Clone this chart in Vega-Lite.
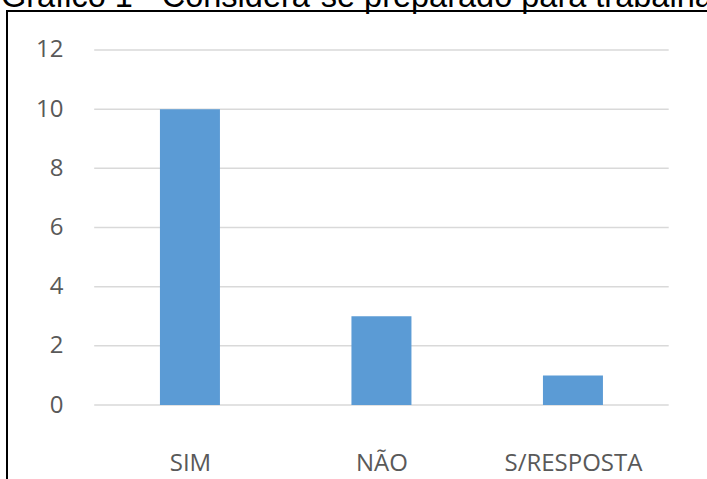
{
  "$schema": "https://vega.github.io/schema/vega-lite/v6.json",
  "autosize": {"type": "none"},
  "padding": {"left": 7, "top": 11, "right": 0, "bottom": 0},
  "width": 705,
  "height": 479,
  "background": "white",
  "title": {
    "text": "Gráfico 1 - Considera-se preparado para trabalhar",
    "anchor": "start",
    "frame": "group",
    "offset": -28,
    "dx": -6,
    "baseline": "alphabetic",
    "font": "Liberation Sans",
    "fontSize": 32.5,
    "fontWeight": "normal",
    "color": "black"
  },
  "config": {"view": {"stroke": "black", "strokeWidth": 2, "fill": "white"}},
  "datasets": {
    "respostas": [
      {"resposta": "SIM", "posicao": 1, "quantidade": 10},
      {"resposta": "NÃO", "posicao": 2, "quantidade": 3},
      {"resposta": "S/RESPOSTA", "posicao": 3, "quantidade": 1}
    ],
    "grade": [
      {"valor": 0, "inicio": 0.5, "fim": 3.5},
      {"valor": 2, "inicio": 0.5, "fim": 3.5},
      {"valor": 4, "inicio": 0.5, "fim": 3.5},
      {"valor": 6, "inicio": 0.5, "fim": 3.5},
      {"valor": 8, "inicio": 0.5, "fim": 3.5},
      {"valor": 10, "inicio": 0.5, "fim": 3.5},
      {"valor": 12, "inicio": 0.5, "fim": 3.5}
    ]
  },
  "layer": [
    {
      "data": {"name": "grade"},
      "mark": {"type": "rule", "color": "#d9d9d9", "strokeWidth": 1.5},
      "encoding": {
        "x": {
          "field": "inicio", "type": "quantitative",
          "scale": {"domain": [0.0708, 3.7], "nice": false, "zero": false},
          "axis": {"values": [1, 2, 3], "labelExpr": "datum.value == 1 ? 'SIM' : datum.value == 2 ? 'NÃO' : 'S/RESPOSTA'", "grid": false, "domain": false, "ticks": false, "title": null, "orient": "bottom", "offset": -27, "labelPadding": 0, "labelBaseline": "middle", "labelFont": "Open Sans", "labelFontSize": 24, "labelColor": "#595959", "labelFlush": false, "labelOverlap": false}
        },
        "x2": {"field": "fim"},
        "y": {
          "field": "valor", "type": "quantitative",
          "scale": {"domain": [-2.873, 13.318], "nice": false, "zero": false},
          "axis": {"values": [0, 2, 4, 6, 8, 10, 12], "grid": false, "domain": false, "ticks": false, "title": null, "offset": -70, "labelPadding": 14, "labelFont": "Open Sans", "labelFontSize": 24, "labelColor": "#595959"}
        }
      }
    },
    {
      "data": {"name": "respostas"},
      "mark": {"type": "bar", "color": "#5b9bd5", "size": 60},
      "encoding": {
        "x": {"field": "posicao", "type": "quantitative"},
        "y": {"field": "quantidade", "type": "quantitative"},
        "y2": {"datum": 0}
      }
    }
  ]
}
